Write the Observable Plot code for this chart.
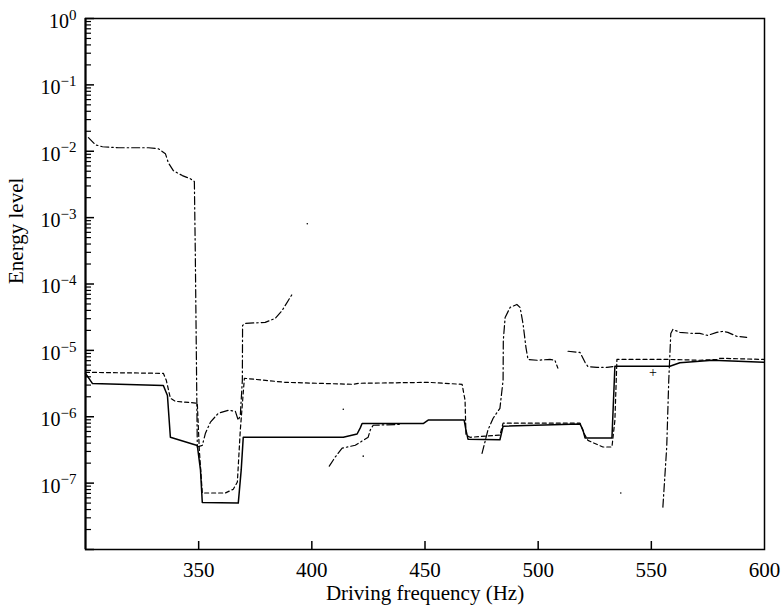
<!DOCTYPE html>
<html>
<head>
<meta charset="utf-8">
<script src="https://cdn.jsdelivr.net/npm/d3@7"></script>
<script src="https://cdn.jsdelivr.net/npm/@observablehq/plot@0.6"></script>
<style>
  html, body { margin: 0; padding: 0; background: #fff; }
  svg { display: block; }
</style>
</head>
<body>
<div id="chart"></div>
<script>
// Response energy vs. driving frequency, three configurations.

// Solid curve
const solidFreq = [300, 303.1, 334.4, 336.2, 337.5, 349.4, 350.8, 351.6, 367.5, 368.8, 369.7, 413.9, 420.0, 421.4, 422.2, 449.2, 451.4, 467.3, 468.1, 469.0, 483.1, 484.5, 518.5, 519.8, 520.7, 532.6, 533.9, 558.2, 562.6, 577.1, 599.6];
const solidEnergy = [4.5e-6, 3.16e-6, 2.95e-6, 2.09e-6, 4.9e-7, 3.7e-7, 1.58e-7, 5.1e-8, 5.0e-8, 1.58e-7, 4.9e-7, 4.9e-7, 5.5e-7, 6.8e-7, 7.9e-7, 7.9e-7, 8.9e-7, 8.9e-7, 6.3e-7, 4.6e-7, 4.5e-7, 7.2e-7, 7.8e-7, 6.3e-7, 4.8e-7, 4.8e-7, 5.75e-6, 5.75e-6, 6.5e-6, 7.1e-6, 6.6e-6];

// Dashed curve
const dashedFreq = [300, 334.4, 335.7, 337.5, 339.7, 349.4, 350.3, 351.6, 361.8, 365.3, 367.1, 368.4, 370.2, 388.3, 418.3, 420.5, 451.4, 466.4, 467.7, 468.1, 469.9, 483.1, 484.5, 518.5, 520.2, 522.0, 528.6, 532.6, 533.9, 534.8, 558.2, 571.4, 579.4, 580.2, 599.6];
const dashedEnergy = [4.67e-6, 4.51e-6, 3.54e-6, 1.9e-6, 1.71e-6, 1.6e-6, 3.13e-7, 7.1e-8, 7.1e-8, 8.1e-8, 1.04e-7, 6.3e-7, 3.8e-6, 3.3e-6, 3.08e-6, 3.19e-6, 3.3e-6, 3.08e-6, 1.77e-6, 5.3e-7, 4.9e-7, 5.3e-7, 8.0e-7, 8.0e-7, 5.65e-7, 4.4e-7, 3.5e-7, 3.5e-7, 8.85e-7, 7.3e-6, 7.3e-6, 7.1e-6, 7.3e-6, 7.6e-6, 7.3e-6];

// Dash-dot curve, drawn as separate branches
const dashDotBranch = [1,1,1,1,1,1,1,1,1,1,1,1,1,1,1,1,1,1,1,1,1,1,1,1,1,1,1,1,1,1,
  2,2,2,2,2,2,2,2,2,
  3,3,3,3,3,3,3,3,3,3,3,3,3,3,3,3,3,
  4,4,4,4,4,4,4,
  5,5,5,5,5,5,5,5,5,5,5,5,5,5];
const dashDotFreq = [301.3, 304.4, 307.5, 314.6, 327.8, 332.2, 335.3, 336.6, 338.8, 342.8, 346.3, 348.1, 348.5, 349.4, 351.6, 353.0, 355.2, 358.7, 363.1, 366.2, 367.5, 368.4, 369.3, 369.4, 370.6, 379.4, 383.8, 386.9, 389.6, 391.8,
  407.7, 410.3, 413.4, 419.2, 421.4, 424.9, 425.8, 427.1, 439.9,
  475.2, 477.8, 480.1, 483.1, 484.5, 484.6, 485.4, 487.6, 490.6, 492.0, 493.3, 494.6, 495.5, 499.5, 505.2, 507.4, 508.7,
  513.2, 518.5, 520.7, 522.0, 526.0, 530.4, 533.0,
  555.1, 556.8, 557.7, 558.6, 559.5, 562.6, 568.3, 571.4, 574.9, 578.9, 581.6, 583.8, 587.7, 592.1];
const dashDotEnergy = [1.6e-2, 1.25e-2, 1.17e-2, 1.13e-2, 1.13e-2, 1.09e-2, 9.2e-3, 6.7e-3, 5.1e-3, 4.3e-3, 3.85e-3, 3.5e-3, 3.2e-4, 3.5e-7, 3.7e-7, 5.65e-7, 8.3e-7, 1.13e-6, 1.25e-6, 1.21e-6, 8.85e-7, 1.05e-6, 3.54e-6, 2.38e-5, 2.55e-5, 2.64e-5, 3.03e-5, 4.0e-5, 5.65e-5, 7.45e-5,
  1.8e-7, 2.46e-7, 3.36e-7, 3.72e-7, 4.14e-7, 4.92e-7, 6.3e-7, 7.45e-7, 7.7e-7,
  2.8e-7, 6.3e-7, 9.5e-7, 1.34e-6, 3.54e-6, 1.41e-5, 3.13e-5, 4.44e-5, 4.92e-5, 4.44e-5, 2.55e-5, 1.11e-5, 7.3e-6, 7.1e-6, 7.3e-6, 7.1e-6, 5.4e-6,
  9.7e-6, 9.3e-6, 6.6e-6, 5.7e-6, 5.55e-6, 5.55e-6, 5.7e-6,
  4.35e-8, 3.5e-7, 3.54e-6, 1.8e-5, 2.07e-5, 1.87e-5, 1.8e-5, 1.8e-5, 1.68e-5, 1.87e-5, 1.93e-5, 1.87e-5, 1.63e-5, 1.57e-5];

// Isolated points of the dash-dot curve
const isolatedFreq = [398.0, 413.9, 422.7, 536.5];
const isolatedEnergy = [8.1e-4, 1.3e-6, 2.55e-7, 7.1e-8];

// Single marked point
const markFreq = [550.7];
const markEnergy = [4.67e-6];

// Axis ticks
const xTicks = [350, 400, 450, 500, 550];
const xTickLabels = [350, 400, 450, 500, 550, 600];
const yMajor = [1e-8, 1e-7, 1e-6, 1e-5, 1e-4, 1e-3, 1e-2, 1e-1, 1];
const yLabelled = [1e-7, 1e-6, 1e-5, 1e-4, 1e-3, 1e-2, 1e-1, 1];
const yMinor = d3.range(-8, 0).flatMap(e => d3.range(2, 10).map(m => m * Math.pow(10, e)));

const solid = solidFreq.map((f, i) => ({f, e: solidEnergy[i]}));
const dashed = dashedFreq.map((f, i) => ({f, e: dashedEnergy[i]}));
const dashDot = dashDotFreq.map((f, i) => ({f, e: dashDotEnergy[i], b: dashDotBranch[i]}));
const isolated = isolatedFreq.map((f, i) => ({f, e: isolatedEnergy[i]}));
const marked = markFreq.map((f, i) => ({f, e: markEnergy[i]}));

const font = "Liberation Serif, Times New Roman, serif";

// Frame geometry, used to express tick lengths in data units
const W = 781, H = 613, mL = 85, mR = 17, mT = 18, mB = 64;
const xDomain = [300, 600], yDomain = [1e-8, 1];
const hzPerPx = (xDomain[1] - xDomain[0]) / (W - mL - mR);
const decPerPx = Math.log10(yDomain[1] / yDomain[0]) / (H - mT - mB);
const yTickEnd = (px) => xDomain[0] + px * hzPerPx;
const xTickTop = yDomain[0] * Math.pow(10, 8 * decPerPx);

const chart = Plot.plot({
  width: W,
  height: H,
  marginLeft: mL,
  marginRight: mR,
  marginTop: mT,
  marginBottom: mB,
  style: {fontFamily: font, fontSize: "21px", color: "#000", background: "#fff"},
  x: {domain: xDomain},
  y: {type: "log", domain: yDomain},
  marks: [
    Plot.frame({stroke: "#000", strokeWidth: 1.5}),
    Plot.ruleX([300], {stroke: "#000", strokeWidth: 2}),
    // inward tick marks on the left and bottom edges
    Plot.ruleY(yMajor, {y: d => d, x1: xDomain[0], x2: yTickEnd(9), stroke: "#000", strokeWidth: 1.5}),
    Plot.ruleY(yMinor, {y: d => d, x1: xDomain[0], x2: yTickEnd(6), stroke: "#000", strokeWidth: 1.2}),
    Plot.ruleX(xTicks, {x: d => d, y1: yDomain[0], y2: xTickTop, stroke: "#000", strokeWidth: 1.5}),
    // tick labels
    Plot.axisY({ticks: yLabelled, tickSize: 0, tickPadding: 9, dy: 3, label: null,
      tickFormat: d => String(Math.round(Math.log10(d))), fontSize: 20}),
    Plot.axisX({ticks: xTickLabels, tickSize: 0, tickPadding: 13, label: null,
      tickFormat: d => String(d), fontSize: 21}),
    // curves
    Plot.line(solid, {x: "f", y: "e", stroke: "#000", strokeWidth: 1.5}),
    Plot.line(dashed, {x: "f", y: "e", stroke: "#000", strokeWidth: 1.2, strokeDasharray: "4,3"}),
    Plot.line(dashDot, {x: "f", y: "e", z: "b", stroke: "#000", strokeWidth: 1.2, strokeDasharray: "8,3,1.5,3"}),
    Plot.dot(isolated, {x: "f", y: "e", r: 0.8, fill: "#000", stroke: null}),
    Plot.text(marked, {x: "f", y: "e", text: () => "+", fontSize: 14, fill: "#000"}),
    // axis titles
    Plot.text(["Energy level"], {frameAnchor: "left", dx: -69, rotate: -90, fontSize: 21, fill: "#000"}),
    Plot.text(["Driving frequency (Hz)"], {frameAnchor: "bottom", dy: 50, fontSize: 21, fill: "#000"})
  ]
});

const svg = d3.select(chart);

// Write the y tick labels as powers of ten with a raised exponent
svg.selectAll('g[aria-label="y-axis tick label"] text').each(function() {
  const exp = this.textContent.replace("-", "\u2212");
  const t = d3.select(this);
  t.text(null);
  t.append("tspan").text("10");
  t.append("tspan").attr("dy", "-0.55em").attr("font-size", "15px").text(exp);
});

document.getElementById("chart").appendChild(chart);
</script>
</body>
</html>
